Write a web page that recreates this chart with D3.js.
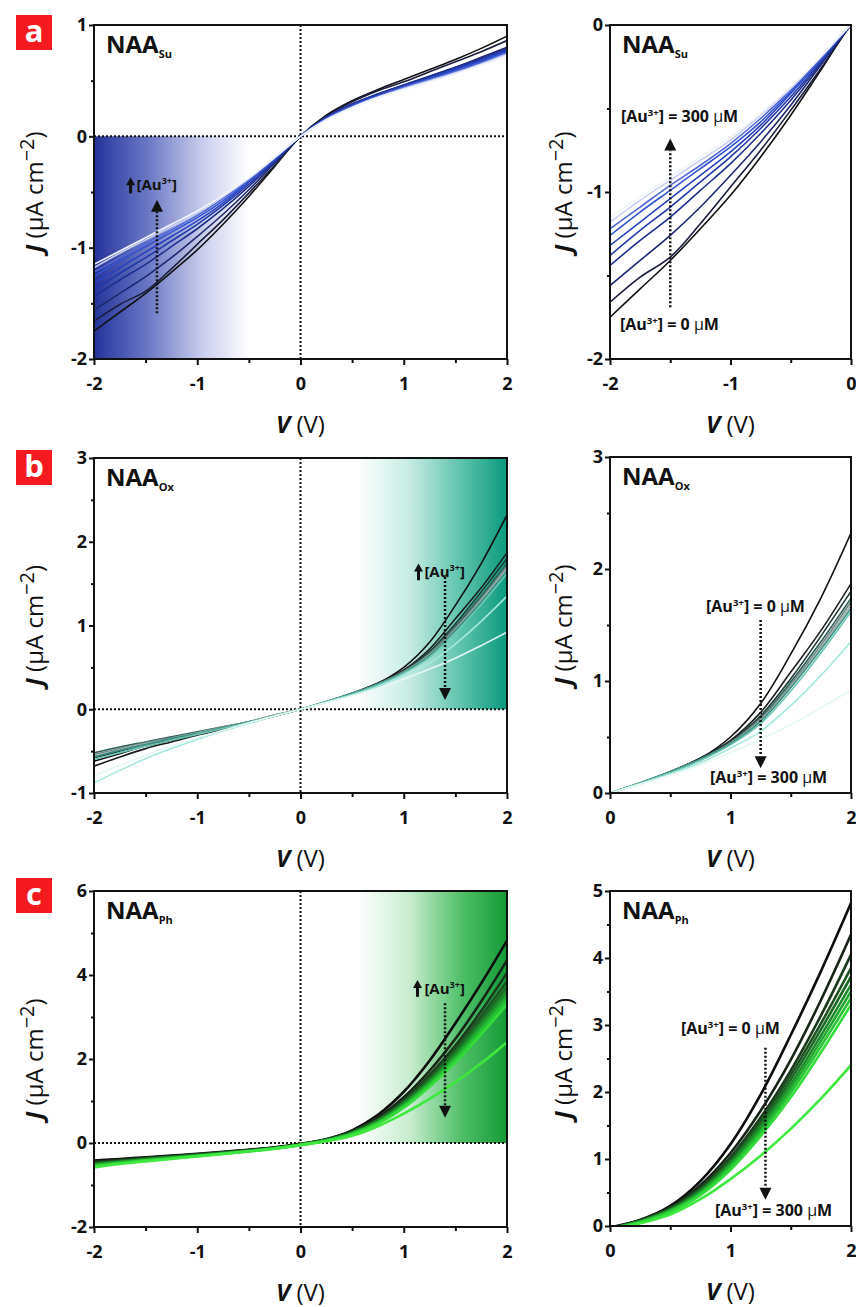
<!DOCTYPE html>
<html><head><meta charset="utf-8">
<script src="https://cdnjs.cloudflare.com/ajax/libs/d3/7.8.5/d3.min.js"></script>
<style>
html,body{margin:0;padding:0;background:#fff;}
svg text{font-family:"Open Sans","Noto Sans",sans-serif;}
</style></head>
<body><svg id="chart" width="856" height="1307"></svg>
<script>
// ---------------- DATA ----------------
const voltage = [-2,-1.75,-1.5,-1.25,-1,-0.75,-0.5,-0.25,0,0.25,0.5,0.75,1,1.25,1.5,1.75,2];

// NAA_Su : [Au3+] 0 -> 300 uM
const suJ = [
 [-1.75,-1.58,-1.41,-1.22,-1.02,-0.79,-0.54,-0.27,0,0.19,0.32,0.42,0.51,0.60,0.69,0.79,0.90],
 [-1.66,-1.51,-1.39,-1.19,-0.97,-0.75,-0.51,-0.26,0,0.18,0.31,0.41,0.49,0.58,0.67,0.76,0.86],
 [-1.56,-1.41,-1.26,-1.09,-0.90,-0.70,-0.48,-0.24,0,0.17,0.29,0.38,0.46,0.54,0.62,0.71,0.80],
 [-1.44,-1.29,-1.15,-0.99,-0.83,-0.65,-0.45,-0.23,0,0.17,0.29,0.38,0.46,0.54,0.62,0.70,0.79],
 [-1.38,-1.23,-1.09,-0.94,-0.79,-0.62,-0.43,-0.22,0,0.17,0.28,0.37,0.45,0.53,0.61,0.69,0.78],
 [-1.32,-1.18,-1.04,-0.90,-0.76,-0.60,-0.41,-0.21,0,0.16,0.28,0.37,0.45,0.52,0.60,0.68,0.77],
 [-1.26,-1.12,-0.99,-0.86,-0.73,-0.58,-0.40,-0.20,0,0.16,0.27,0.36,0.44,0.51,0.59,0.67,0.76],
 [-1.22,-1.09,-0.96,-0.84,-0.71,-0.56,-0.39,-0.20,0,0.16,0.27,0.36,0.44,0.51,0.58,0.66,0.75],
 [-1.18,-1.05,-0.93,-0.81,-0.69,-0.54,-0.38,-0.19,0,0.15,0.26,0.35,0.43,0.50,0.57,0.65,0.74],
 [-1.15,-1.03,-0.91,-0.79,-0.67,-0.53,-0.37,-0.19,0,0.15,0.26,0.35,0.42,0.49,0.56,0.64,0.72]
];
const suColors = ["#111111","#1a1d3e","#1e2870","#1f2f8e","#2238a8","#2843bf","#3153d2","#5068d8","#c8cff2","#f2f4fc"];

// NAA_Ox
const oxJ = [
 [-0.62,-0.53,-0.44,-0.37,-0.30,-0.23,-0.16,-0.08,0,0.09,0.19,0.31,0.50,0.80,1.24,1.74,2.32],
 [-0.68,-0.57,-0.47,-0.39,-0.31,-0.24,-0.16,-0.08,0,0.09,0.19,0.31,0.47,0.72,1.08,1.45,1.87],
 [-0.58,-0.50,-0.42,-0.35,-0.29,-0.22,-0.15,-0.08,0,0.09,0.19,0.31,0.46,0.69,1.02,1.40,1.80],
 [-0.52,-0.45,-0.39,-0.33,-0.27,-0.21,-0.15,-0.07,0,0.09,0.19,0.30,0.45,0.67,0.99,1.35,1.74],
 [-0.54,-0.47,-0.40,-0.34,-0.28,-0.21,-0.15,-0.07,0,0.09,0.19,0.30,0.45,0.66,0.97,1.32,1.71],
 [-0.56,-0.48,-0.41,-0.35,-0.28,-0.22,-0.15,-0.07,0,0.09,0.19,0.30,0.44,0.65,0.95,1.30,1.68],
 [-0.57,-0.49,-0.42,-0.35,-0.29,-0.22,-0.15,-0.08,0,0.09,0.19,0.30,0.44,0.64,0.94,1.28,1.65],
 [-0.60,-0.52,-0.44,-0.37,-0.30,-0.23,-0.16,-0.08,0,0.09,0.18,0.29,0.43,0.62,0.91,1.25,1.62],
 [-0.88,-0.73,-0.59,-0.47,-0.36,-0.26,-0.17,-0.08,0,0.08,0.17,0.27,0.40,0.55,0.78,1.05,1.35],
 [-0.80,-0.67,-0.55,-0.44,-0.34,-0.25,-0.16,-0.08,0,0.08,0.16,0.25,0.36,0.48,0.61,0.76,0.92]
];
const oxColors = ["#111111","#1b1f1e","#1f3b36","#2a5e55","#6f8784","#9fb0ad","#3b8f80","#6cc7b4","#a6e8dc","#e4f7f3"];

// NAA_Ph
const phJ = [
 [-0.42,-0.38,-0.34,-0.30,-0.26,-0.21,-0.16,-0.10,-0.02,0.09,0.30,0.67,1.22,1.96,2.85,3.80,4.82],
 [-0.44,-0.40,-0.35,-0.31,-0.27,-0.22,-0.17,-0.11,-0.03,0.09,0.28,0.61,1.09,1.72,2.48,3.37,4.35],
 [-0.46,-0.41,-0.36,-0.32,-0.27,-0.22,-0.17,-0.11,-0.03,0.08,0.27,0.58,1.03,1.62,2.32,3.14,4.05],
 [-0.48,-0.43,-0.37,-0.33,-0.28,-0.23,-0.18,-0.12,-0.03,0.08,0.26,0.56,1.00,1.57,2.25,3.02,3.85],
 [-0.49,-0.43,-0.38,-0.33,-0.29,-0.24,-0.18,-0.12,-0.04,0.07,0.25,0.54,0.97,1.52,2.18,2.93,3.72],
 [-0.51,-0.45,-0.39,-0.34,-0.29,-0.24,-0.19,-0.12,-0.04,0.07,0.24,0.52,0.94,1.48,2.11,2.84,3.60],
 [-0.52,-0.46,-0.40,-0.35,-0.30,-0.25,-0.19,-0.13,-0.04,0.06,0.23,0.50,0.91,1.43,2.05,2.76,3.50],
 [-0.54,-0.47,-0.41,-0.36,-0.31,-0.25,-0.19,-0.13,-0.04,0.06,0.22,0.48,0.88,1.39,1.99,2.68,3.40],
 [-0.56,-0.49,-0.42,-0.37,-0.31,-0.26,-0.20,-0.13,-0.05,0.05,0.20,0.46,0.84,1.34,1.92,2.59,3.30],
 [-0.58,-0.50,-0.44,-0.38,-0.32,-0.26,-0.20,-0.14,-0.05,0.04,0.17,0.40,0.70,1.05,1.45,1.90,2.40]
];
const phColors = ["#0d0d0d","#162516","#1b3a1d","#1d5221","#1c6b25","#1d8a2a","#20a82f","#27c535","#33dc3a","#3fe83f"];

const xTicksFull = [-2,-1,0,1,2], xMinorFull = [-1.5,-0.5,0.5,1.5];
const xTicksNeg = [-2,-1,0], xMinorNeg = [-1.5,-0.5];
const xTicksPos = [0,1,2], xMinorPos = [0.5,1.5];

// ---------------- DRAW ----------------
const svg = d3.select("#chart");
const defs = svg.append("defs");
let uid = 0;

function gradient(stops){
  const id = "g" + (uid++);
  const g = defs.append("linearGradient").attr("id", id).attr("x1","0%").attr("x2","100%").attr("y1","0%").attr("y2","0%");
  stops.forEach(s => g.append("stop").attr("offset", s[0]).attr("stop-color", s[1]));
  return id;
}

function auText(sel, fs){
  sel.append("tspan").text("[Au");
  sel.append("tspan").text("3+").attr("font-size", fs*0.6).attr("dy", -fs*0.4);
  sel.append("tspan").text("]").attr("dy", fs*0.4);
}

function panel(o){
  const x = d3.scaleLinear().domain(o.xDom).range([o.left, o.right]);
  const y = d3.scaleLinear().domain(o.yDom).range([o.bottom, o.top]);
  const g = svg.append("g");
  const clipId = "c" + (uid++);
  defs.append("clipPath").attr("id", clipId).append("rect")
    .attr("x", o.left).attr("y", o.top).attr("width", o.right-o.left).attr("height", o.bottom-o.top);
  const body = g.append("g").attr("clip-path", `url(#${clipId})`);

  if (o.grad){
    const gid = gradient(o.grad.stops);
    body.append("rect").attr("x", x(o.grad.x[0])).attr("width", x(o.grad.x[1]) - x(o.grad.x[0]))
      .attr("y", y(o.grad.y[1])).attr("height", y(o.grad.y[0]) - y(o.grad.y[1]))
      .attr("fill", `url(#${gid})`);
  }
  if (o.zeroLines){
    body.append("line").attr("x1", x(0)).attr("x2", x(0)).attr("y1", o.top).attr("y2", o.bottom)
      .attr("stroke","#111").attr("stroke-width",2).attr("stroke-dasharray","2,2");
    body.append("line").attr("x1", o.left).attr("x2", o.right).attr("y1", y(0)).attr("y2", y(0))
      .attr("stroke","#111").attr("stroke-width",2).attr("stroke-dasharray","2,2");
  }
  const line = d3.line().x((d,i)=>x(voltage[i])).y(d=>y(d)).curve(d3.curveCatmullRom.alpha(0.5));
  o.series.forEach((s,i)=>{
    body.append("path").attr("d", line(s)).attr("fill","none")
      .attr("stroke", o.colors[i]).attr("stroke-width", o.sw).attr("stroke-linejoin","round");
  });

  const fmt = d => String(d);
  g.append("g").attr("transform", `translate(0,${o.bottom})`)
    .call(d3.axisBottom(x).tickValues(o.xt).tickSize(6).tickPadding(12).tickFormat(fmt));
  g.append("g").attr("transform", `translate(0,${o.bottom})`)
    .call(d3.axisBottom(x).tickValues(o.xm).tickSize(4).tickFormat(""));
  g.append("g").attr("transform", `translate(${o.left},0)`)
    .call(d3.axisLeft(y).tickValues(o.yt).tickSize(5).tickPadding(2).tickFormat(fmt));
  g.append("g").attr("transform", `translate(${o.left},0)`)
    .call(d3.axisLeft(y).tickValues(o.ym).tickSize(3).tickFormat(""));
  g.selectAll(".domain").remove();
  g.selectAll(".tick line").attr("stroke","#111").attr("stroke-width",2);
  g.selectAll(".tick text").attr("font-size",18).attr("font-weight",700).attr("fill","#111");
  g.append("rect").attr("x", o.left).attr("y", o.top).attr("width", o.right-o.left).attr("height", o.bottom-o.top)
    .attr("fill","none").attr("stroke","#111").attr("stroke-width",2);

  const t = g.append("text").attr("x", o.left+12).attr("y", o.top+28).attr("font-size",24).attr("font-weight",700).attr("fill","#111");
  t.append("tspan").text("NAA");
  t.append("tspan").text(o.sub).attr("font-size",11).attr("dy",5);

  const xt = g.append("text").attr("x", (o.left+o.right)/2).attr("y", o.bottom+74).attr("text-anchor","middle").attr("font-size",24).attr("fill","#111");
  xt.append("tspan").text("V").attr("font-weight",700).attr("font-style","italic");
  xt.append("tspan").text(" (V)");
  const yt = g.append("text").attr("transform", `translate(${o.ytx},${(o.top+o.bottom)/2}) rotate(-90)`)
    .attr("text-anchor","middle").attr("font-size",24).attr("fill","#111");
  yt.append("tspan").text("J").attr("font-weight",700).attr("font-style","italic");
  yt.append("tspan").text(" (\u03bcA cm");
  yt.append("tspan").text("\u22122").attr("font-size",20).attr("dy",-9);
  yt.append("tspan").text(")").attr("dy",9);

  if (o.arrow){
    const a = o.arrow, ax0 = x(a.x), yFrom = y(a.from), yTip = y(a.to);
    const dir = yTip < yFrom ? 1 : -1;
    const base = yTip + dir*12;
    g.append("line").attr("x1", ax0).attr("x2", ax0).attr("y1", yFrom).attr("y2", base)
      .attr("stroke","#111").attr("stroke-width",2.5).attr("stroke-dasharray","2,2");
    g.append("path").attr("d", `M${ax0},${yTip} L${ax0-6},${base} L${ax0+6},${base} Z`).attr("fill","#111");
  }
  if (o.upLabel){
    const u = o.upLabel, ux = x(u.ax), uy1 = y(u.ay[0]), uy2 = y(u.ay[1]);
    g.append("line").attr("x1", ux).attr("x2", ux).attr("y1", uy1).attr("y2", uy2+6).attr("stroke","#111").attr("stroke-width",3);
    g.append("path").attr("d", `M${ux},${uy2} L${ux-4.5},${uy2+8} L${ux+4.5},${uy2+8} Z`).attr("fill","#111");
    const tt = g.append("text").attr("x", x(u.tx)).attr("y", y(u.ty)).attr("font-size",15).attr("font-weight",700).attr("fill","#111");
    auText(tt, 15);
  }
  (o.concLabels||[]).forEach(c=>{
    const tt = g.append("text").attr("x", x(c.x)).attr("y", y(c.y)).attr("font-size",16).attr("font-weight",700).attr("fill","#111");
    auText(tt, 16);
    tt.append("tspan").text(` = ${c.val} `);
    tt.append("tspan").text("\u03bc").attr("font-weight",400);
    tt.append("tspan").text("M");
  });
}

function letter(ch, yTop){
  svg.append("rect").attr("x",16).attr("y",yTop).attr("width",36).attr("height",35).attr("fill","#f41a1f");
  svg.append("text").attr("x",34).attr("y",yTop+27).attr("text-anchor","middle").attr("font-size",31)
    .attr("font-weight",700).attr("fill","#fff").text(ch);
}

// Row a
panel({left:94,right:507,top:25,bottom:359,xDom:[-2,2],yDom:[-2,1],xt:xTicksFull,xm:xMinorFull,yt:[-2,-1,0,1],ym:[-1.5,-0.5,0.5],
  series:suJ,colors:suColors,sw:1.6,sub:"Su",ytx:43,zeroLines:true,
  grad:{x:[-2,-0.5],y:[-2,0],stops:[[0,"#25339a"],[0.35,"#6c78c4"],[0.7,"#c9cdec"],[1,"#ffffff"]]},
  arrow:{x:-1.39,from:-1.59,to:-0.57},
  upLabel:{ax:-1.646,ay:[-0.512,-0.368],tx:-1.588,ty:-0.485}});
panel({left:610,right:851,top:25,bottom:359,xDom:[-2,0],yDom:[-2,0],xt:xTicksNeg,xm:xMinorNeg,yt:[-2,-1,0],ym:[-1.5,-0.5],
  series:suJ,colors:suColors,sw:1.6,sub:"Su",ytx:572,
  arrow:{x:-1.5,from:-1.69,to:-0.68},
  concLabels:[{x:-1.909,y:-0.581,val:"300"},{x:-1.917,y:-1.826,val:"0"}]});

// Row b
panel({left:94,right:507,top:458,bottom:793,xDom:[-2,2],yDom:[-1,3],xt:xTicksFull,xm:xMinorFull,yt:[-1,0,1,2,3],ym:[-0.5,0.5,1.5,2.5],
  series:oxJ,colors:oxColors,sw:1.6,sub:"Ox",ytx:43,zeroLines:true,
  grad:{x:[0.55,2],y:[0,3],stops:[[0,"#ffffff"],[0.35,"#c6ece3"],[0.7,"#5cc2ab"],[1,"#0a9a7c"]]},
  arrow:{x:1.4,from:1.58,to:0.11},
  upLabel:{ax:1.143,ay:[1.54,1.74],tx:1.2,ty:1.576}});
panel({left:610,right:851,top:457,bottom:793,xDom:[0,2],yDom:[0,3],xt:xTicksPos,xm:xMinorPos,yt:[0,1,2,3],ym:[0.5,1.5,2.5],
  series:oxJ,colors:oxColors,sw:1.6,sub:"Ox",ytx:572,
  arrow:{x:1.25,from:1.545,to:0.22},
  concLabels:[{x:0.797,y:1.616,val:"0"},{x:0.83,y:0.089,val:"300"}]});

// Row c
panel({left:94,right:507,top:891,bottom:1227,xDom:[-2,2],yDom:[-2,6],xt:xTicksFull,xm:xMinorFull,yt:[-2,0,2,4,6],ym:[-1,1,3,5],
  series:phJ,colors:phColors,sw:2.6,sub:"Ph",ytx:43,zeroLines:true,
  grad:{x:[0.55,2],y:[0,6],stops:[[0,"#ffffff"],[0.35,"#c8ecd0"],[0.7,"#4fbf67"],[1,"#139a35"]]},
  arrow:{x:1.4,from:3.33,to:0.6},
  upLabel:{ax:1.133,ay:[3.48,3.88],tx:1.2,ty:3.55}});
panel({left:610,right:851,top:891,bottom:1226,xDom:[0,2],yDom:[0,5],xt:xTicksPos,xm:xMinorPos,yt:[0,1,2,3,4,5],ym:[0.5,1.5,2.5,3.5,4.5],
  series:phJ,colors:phColors,sw:2.6,sub:"Ph",ytx:572,
  arrow:{x:1.29,from:2.66,to:0.39},
  concLabels:[{x:0.589,y:2.866,val:"0"},{x:0.871,y:0.149,val:"300"}]});

letter("a",15); letter("b",450); letter("c",878);
</script>
</body></html>
